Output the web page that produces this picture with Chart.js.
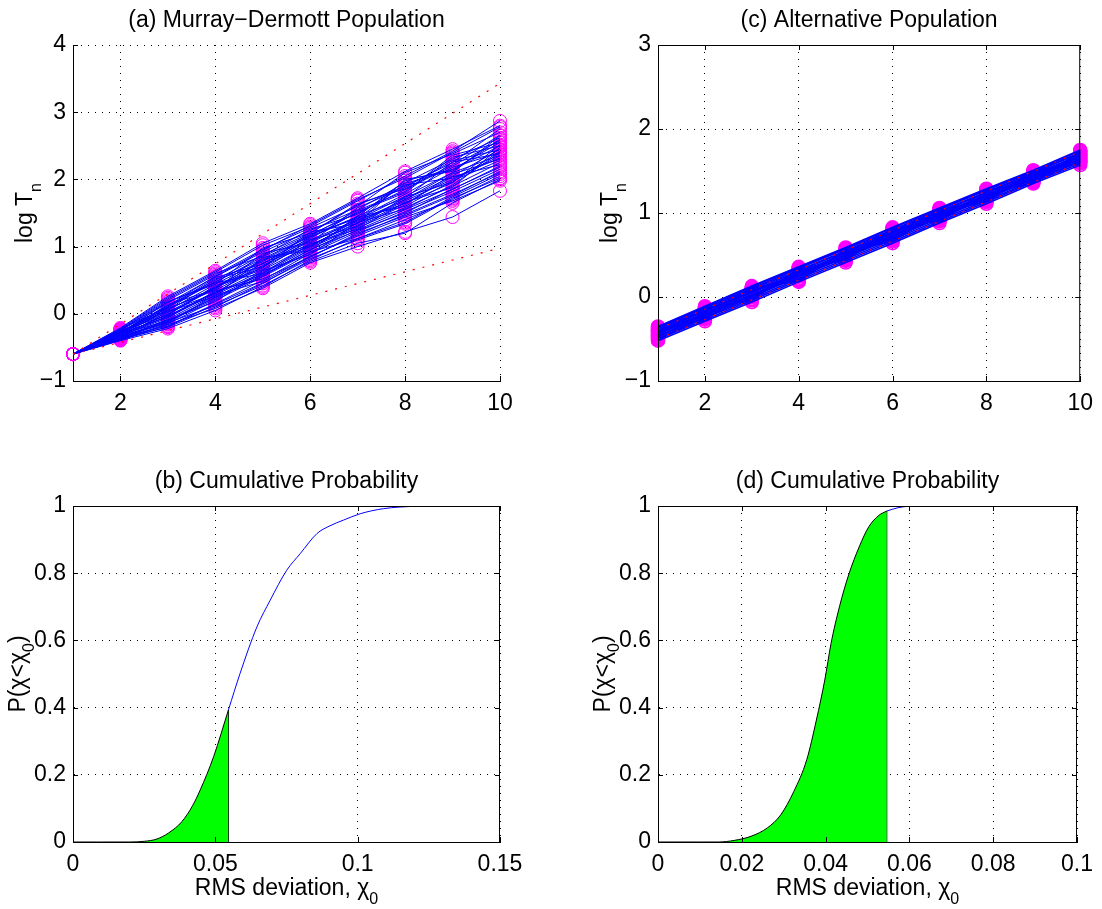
<!DOCTYPE html>
<html>
<head>
<meta charset="utf-8">
<script src="https://cdn.jsdelivr.net/npm/chart.js@4.4.1/dist/chart.umd.min.js"></script>
<style>
  body { margin: 0; background: #fff; }
  #fig { position: relative; width: 1102px; height: 909px; }
  canvas { position: absolute; }
</style>
</head>
<body>
<div id="fig">
  <canvas id="panelA" width="551" height="454" style="left:0;top:0"></canvas>
  <canvas id="panelC" width="551" height="454" style="left:551px;top:0"></canvas>
  <canvas id="panelB" width="551" height="455" style="left:0;top:454px"></canvas>
  <canvas id="panelD" width="551" height="455" style="left:551px;top:454px"></canvas>
</div>
<script>
// ---- data ----
const steps = [1, 2, 3, 4, 5, 6, 7, 8, 9, 10];

// (a) Murray-Dermott population: log T_n for each simulated system
const popA = [
  [-0.60, -0.22, 0.24, 0.62, 1.02, 1.30, 1.68, 2.05, 2.42, 2.87],
  [-0.60, -0.24, 0.20, 0.58, 0.96, 1.28, 1.60, 2.10, 2.38, 2.70],
  [-0.60, -0.25, 0.16, 0.55, 0.92, 1.24, 1.55, 1.95, 2.30, 2.62],
  [-0.60, -0.27, 0.12, 0.50, 0.88, 1.20, 1.62, 1.90, 2.25, 2.75],
  [-0.60, -0.23, 0.10, 0.47, 0.85, 1.18, 1.50, 1.85, 2.20, 2.58],
  [-0.60, -0.30, 0.05, 0.44, 0.80, 1.15, 1.45, 1.98, 2.15, 2.55],
  [-0.60, -0.28, 0.02, 0.40, 0.78, 1.12, 1.52, 1.80, 2.33, 2.50],
  [-0.60, -0.32, 0.00, 0.38, 0.75, 1.10, 1.40, 1.75, 2.10, 2.65],
  [-0.60, -0.26, 0.08, 0.35, 0.72, 1.08, 1.38, 1.70, 2.05, 2.45],
  [-0.60, -0.34, -0.03, 0.32, 0.70, 1.05, 1.42, 1.78, 2.18, 2.40],
  [-0.60, -0.29, -0.05, 0.30, 0.65, 1.02, 1.35, 1.68, 2.00, 2.35],
  [-0.60, -0.36, -0.08, 0.28, 0.62, 1.00, 1.32, 1.65, 1.95, 2.52],
  [-0.60, -0.31, -0.10, 0.25, 0.60, 0.98, 1.30, 1.62, 2.08, 2.30],
  [-0.60, -0.33, -0.12, 0.22, 0.58, 0.95, 1.28, 1.58, 1.90, 2.25],
  [-0.60, -0.38, -0.15, 0.20, 0.55, 0.92, 1.25, 1.55, 1.85, 2.20],
  [-0.60, -0.35, -0.18, 0.15, 0.50, 0.90, 1.22, 1.52, 1.82, 2.15],
  [-0.60, -0.37, -0.20, 0.10, 0.45, 0.85, 1.18, 1.48, 1.78, 2.10],
  [-0.60, -0.40, -0.22, 0.05, 0.40, 0.80, 1.12, 1.40, 1.70, 2.05],
  [-0.60, -0.39, -0.16, 0.08, 0.38, 0.76, 1.00, 1.22, 1.44, 1.83],
  [-0.60, -0.34, -0.13, 0.12, 0.42, 0.78, 1.05, 1.20, 1.65, 2.00],
  [-0.60, -0.27, 0.06, 0.52, 0.70, 1.14, 1.44, 1.60, 1.98, 2.28],
  [-0.60, -0.30, 0.14, 0.36, 0.90, 1.06, 1.58, 1.88, 2.28, 2.44],
  [-0.60, -0.25, -0.02, 0.42, 0.68, 1.22, 1.34, 2.00, 2.12, 2.60],
  [-0.60, -0.36, 0.03, 0.26, 0.84, 0.94, 1.46, 1.72, 2.26, 2.38],
  [-0.60, -0.29, 0.18, 0.46, 0.60, 1.04, 1.26, 1.66, 1.88, 2.48],
  [-0.60, -0.23, 0.22, 0.60, 0.86, 1.26, 1.48, 1.92, 2.02, 2.32],
  [-0.60, -0.33, -0.06, 0.34, 0.52, 0.84, 1.20, 1.46, 1.76, 2.12],
  [-0.60, -0.38, -0.09, 0.18, 0.64, 0.88, 1.36, 1.56, 1.92, 2.40],
  [-0.60, -0.31, 0.10, 0.48, 0.82, 1.16, 1.54, 1.82, 2.36, 2.55],
  [-0.60, -0.26, 0.04, 0.30, 0.76, 1.00, 1.40, 1.64, 2.04, 2.22],
  [-0.60, -0.35, -0.14, 0.28, 0.48, 0.86, 1.16, 1.44, 1.68, 1.98],
  [-0.60, -0.28, 0.12, 0.56, 0.94, 1.32, 1.70, 2.02, 2.40, 2.78],
  [-0.60, -0.32, -0.01, 0.40, 0.66, 1.10, 1.30, 1.74, 1.96, 2.42],
  [-0.60, -0.37, -0.11, 0.24, 0.56, 0.96, 1.24, 1.50, 1.86, 2.18],
  [-0.60, -0.24, 0.18, 0.44, 0.98, 1.20, 1.64, 1.86, 2.22, 2.66],
  [-0.60, -0.30, -0.04, 0.32, 0.58, 0.92, 1.12, 1.36, 1.74, 2.08],
  [-0.60, -0.27, 0.09, 0.54, 0.74, 1.18, 1.42, 1.94, 2.14, 2.50],
  [-0.60, -0.39, -0.19, 0.14, 0.46, 0.82, 1.10, 1.34, 1.72, 2.02],
  [-0.60, -0.33, 0.07, 0.38, 0.80, 1.02, 1.36, 1.70, 2.10, 2.36],
  [-0.60, -0.21, 0.26, 0.64, 1.05, 1.34, 1.72, 2.12, 2.45, 2.80]
];
const boundX = [1, 10];
const boundUpA = [-0.60, 3.43];
const boundLoA = [-0.60, 0.975];

// (c) alternative population
const popC = [
  [-0.52, -0.29, -0.06, 0.18, 0.41, 0.64, 0.88, 1.11, 1.35, 1.57],
  [-0.50, -0.27, -0.04, 0.20, 0.43, 0.66, 0.90, 1.13, 1.37, 1.59],
  [-0.49, -0.25, -0.02, 0.22, 0.45, 0.68, 0.92, 1.15, 1.38, 1.61],
  [-0.47, -0.24, 0.00, 0.24, 0.47, 0.70, 0.94, 1.17, 1.40, 1.62],
  [-0.46, -0.22, 0.01, 0.25, 0.48, 0.71, 0.95, 1.18, 1.41, 1.64],
  [-0.44, -0.21, 0.02, 0.26, 0.49, 0.72, 0.96, 1.19, 1.42, 1.65],
  [-0.43, -0.20, 0.03, 0.27, 0.50, 0.73, 0.97, 1.20, 1.43, 1.66],
  [-0.42, -0.19, 0.05, 0.28, 0.51, 0.74, 0.98, 1.21, 1.44, 1.67],
  [-0.41, -0.17, 0.06, 0.29, 0.52, 0.76, 0.99, 1.22, 1.45, 1.68],
  [-0.40, -0.16, 0.07, 0.31, 0.54, 0.77, 1.01, 1.24, 1.46, 1.69],
  [-0.38, -0.15, 0.09, 0.32, 0.55, 0.79, 1.02, 1.25, 1.48, 1.71],
  [-0.37, -0.13, 0.10, 0.34, 0.57, 0.80, 1.04, 1.27, 1.49, 1.72],
  [-0.36, -0.12, 0.12, 0.35, 0.58, 0.82, 1.05, 1.28, 1.50, 1.74],
  [-0.35, -0.11, 0.13, 0.36, 0.59, 0.83, 1.06, 1.29, 1.51, 1.75],
  [-0.48, -0.18, 0.00, 0.30, 0.46, 0.78, 0.93, 1.26, 1.39, 1.70],
  [-0.39, -0.26, 0.08, 0.21, 0.53, 0.67, 1.00, 1.14, 1.47, 1.60],
  [-0.45, -0.14, -0.03, 0.33, 0.44, 0.81, 0.91, 1.23, 1.36, 1.73],
  [-0.51, -0.23, 0.11, 0.19, 0.56, 0.69, 1.03, 1.16, 1.49, 1.63]
];
const boundUpC = [-0.38, 1.73];
const boundLoC = [-0.50, 1.60];

// (b) cumulative probability, Murray-Dermott
const cdfBx = [0, 0.010, 0.020, 0.025, 0.0295, 0.0336, 0.0383, 0.0420, 0.0447, 0.0494, 0.0546,
  0.0587, 0.0646, 0.0693, 0.0751, 0.0798, 0.0857, 0.0900, 0.0950, 0.1009, 0.1090, 0.1207, 0.1350, 0.1480];
const cdfBy = [0, 0, 0, 0.002, 0.009, 0.027, 0.061, 0.108, 0.155, 0.254, 0.393,
  0.502, 0.640, 0.720, 0.809, 0.858, 0.918, 0.940, 0.958, 0.977, 0.992, 0.999, 1.000, 1.000];

// (d) cumulative probability, alternative
const cdfDx = [0, 0.010, 0.0144, 0.0183, 0.0222, 0.0261, 0.0293, 0.0324, 0.0355, 0.0378, 0.0398,
  0.0413, 0.0433, 0.0456, 0.0480, 0.0503, 0.0527, 0.0546, 0.0573, 0.0597, 0.0644];
const cdfDy = [0, 0, 0, 0.005, 0.017, 0.042, 0.081, 0.150, 0.245, 0.363, 0.482,
  0.591, 0.700, 0.799, 0.878, 0.938, 0.972, 0.985, 0.995, 0.999, 1.000];

const chiObs = 0.0546;   // observed RMS deviation (edge of shaded area)

// ticks
const xTicksAC = [2, 4, 6, 8, 10];
const yTicksA = [-1, 0, 1, 2, 3, 4];
const yTicksC = [-1, 0, 1, 2, 3];
const xTicksB = [0, 0.05, 0.1, 0.15];
const xTicksD = [0, 0.02, 0.04, 0.06, 0.08, 0.1];
const yTicksBD = [0, 0.2, 0.4, 0.6, 0.8, 1];

// ---- drawing ----
const FONT = '"Liberation Sans", Arial, Helvetica, sans-serif';
const FSIZE = 23;
Chart.defaults.font.family = FONT;
Chart.defaults.color = '#000';

function drawParts(ctx, parts, cx, base) {
  const main = FSIZE + 'px ' + FONT, sub = '16px ' + FONT;
  const widths = parts.map(p => { ctx.font = p.sub ? sub : main; return ctx.measureText(p.t).width; });
  let x = cx - widths.reduce((s, w) => s + w, 0) / 2;
  parts.forEach((p, i) => {
    ctx.font = p.sub ? sub : main;
    ctx.fillText(p.t, x, base + (p.sub ? 9 : 0));
    x += widths[i];
  });
}

const matlabAxes = {
  id: 'matlabAxes',
  afterDraw(chart, args, opts) {
    const { ctx, chartArea: a, scales: { x, y } } = chart;
    ctx.save();
    ctx.strokeStyle = '#000';
    ctx.lineWidth = 1;
    if (opts.box) ctx.strokeRect(a.left + 0.5, a.top + 0.5, a.width - 1, a.height);
    ctx.beginPath();
    x.ticks.forEach(t => {
      const px = Math.round(x.getPixelForValue(t.value)) + 0.5;
      ctx.moveTo(px, a.bottom); ctx.lineTo(px, a.bottom - 5);
      if (opts.box) { ctx.moveTo(px, a.top); ctx.lineTo(px, a.top + 5); }
    });
    y.ticks.forEach(t => {
      const py = Math.round(y.getPixelForValue(t.value)) + 0.5;
      ctx.moveTo(a.left, py); ctx.lineTo(a.left + 5, py);
      if (opts.box) { ctx.moveTo(a.right, py); ctx.lineTo(a.right - 5, py); }
    });
    ctx.stroke();

    ctx.fillStyle = '#000';
    ctx.textAlign = 'left';
    ctx.textBaseline = 'alphabetic';
    const cx = (a.left + a.right) / 2;
    drawParts(ctx, [{ t: opts.title }], cx, a.top - 18);
    if (opts.xlabel) drawParts(ctx, opts.xlabel, cx, a.bottom + 53);
    ctx.translate(a.left + opts.ylabelOffset, (a.top + a.bottom) / 2);
    ctx.rotate(-Math.PI / 2);
    drawParts(ctx, opts.ylabel, 0, 0);
    ctx.restore();
  }
};

const fmt = v => String(v).replace('-', '\u2212');

function axis(min, max, ticks, size, horizontal) {
  return {
    type: 'linear', min, max,
    afterBuildTicks: s => { s.ticks = ticks.map(v => ({ value: v })); },
    afterFit: s => { if (horizontal) s.height = size; else s.width = size; },
    grid: { color: '#000', lineWidth: 1, drawTicks: false },
    border: { display: true, color: '#000', width: 1, dash: [1, 6] },
    ticks: { color: '#000', font: { size: FSIZE }, padding: horizontal ? 9 : 7,
      maxRotation: 0, autoSkip: false, callback: v => fmt(v) }
  };
}

function makeChart(id, datasets, sc, pad, axisOpts) {
  return new Chart(document.getElementById(id), {
    type: 'line',
    data: { datasets },
    options: {
      responsive: false, animation: false, parsing: false,
      layout: { padding: pad },
      scales: { x: sc.x, y: sc.y },
      plugins: { legend: { display: false }, tooltip: { enabled: false }, matlabAxes: axisOpts }
    },
    plugins: [matlabAxes]
  });
}

const pts = (xs, ys) => xs.map((v, i) => ({ x: v, y: ys[i] }));

function populationSets(pop, up, lo, markerWidth, lineWidth) {
  // markers ordered by x so the line controller keeps every point
  const markers = {
    data: steps.flatMap((s, j) => pop.map(row => ({ x: s, y: row[j] }))), showLine: false,
    pointRadius: 6.5, pointBorderColor: '#ff00ff', pointBorderWidth: markerWidth,
    pointBackgroundColor: 'rgba(0,0,0,0)', clip: false
  };
  const bounds = [up, lo].map(b => ({
    data: pts(boundX, b), borderColor: '#ff0000', borderWidth: 1.2, borderDash: [2, 8],
    pointRadius: 0, clip: false
  }));
  const lines = pop.map(row => ({
    data: pts(steps, row), borderColor: '#0000ff', borderWidth: lineWidth, pointRadius: 0, tension: 0, clip: false
  }));
  // first dataset is painted last: red bounds, then blue lines, then markers underneath
  return [...bounds, ...lines, markers];
}

function cdfSets(xs, ys) {
  const all = pts(xs, ys);
  const shaded = all.filter(p => p.x <= chiObs);
  const pObs = shaded[shaded.length - 1].y;
  return [
    { data: shaded, fill: 'origin', backgroundColor: '#00ff00', borderColor: '#000', borderWidth: 1,
      pointRadius: 0, cubicInterpolationMode: 'monotone' },
    { data: [{ x: chiObs, y: 0 }, { x: chiObs, y: pObs }], borderColor: '#000', borderWidth: 1, pointRadius: 0 },
    { data: all.filter(p => p.x >= chiObs), borderColor: '#0000ff', borderWidth: 1, pointRadius: 0,
      cubicInterpolationMode: 'monotone' }
  ];
}

const logT = [{ t: 'log T' }, { t: 'n', sub: true }];
const pLabel = [{ t: 'P(\u03c7<\u03c7' }, { t: '0', sub: true }, { t: ')' }];
const rmsLabel = [{ t: 'RMS deviation, \u03c7' }, { t: '0', sub: true }];

makeChart('panelA', populationSets(popA, boundUpA, boundLoA, 1, 1),
  { x: axis(1, 10, xTicksAC, 73, true), y: axis(-1, 4, yTicksA, 73, false) },
  { top: 45, right: 51, bottom: 0, left: 0 },
  { title: '(a) Murray\u2212Dermott Population', ylabel: logT, ylabelOffset: -41, box: false });

makeChart('panelC', populationSets(popC, boundUpC, boundLoC, 1.5, 1.6),
  { x: axis(1, 10, xTicksAC, 73, true), y: axis(-1, 3, yTicksC, 107, false) },
  { top: 45, right: 16, bottom: 0, left: 0 },
  { title: '(c) Alternative Population', ylabel: logT, ylabelOffset: -41, box: true });

makeChart('panelB', cdfSets(cdfBx, cdfBy),
  { x: axis(0, 0.15, xTicksB, 67, true), y: axis(0, 1, yTicksBD, 73, false) },
  { top: 52, right: 51, bottom: 0, left: 0 },
  { title: '(b) Cumulative Probability', xlabel: rmsLabel, ylabel: pLabel, ylabelOffset: -48, box: true });

makeChart('panelD', cdfSets(cdfDx, cdfDy),
  { x: axis(0, 0.1, xTicksD, 67, true), y: axis(0, 1, yTicksBD, 107, false) },
  { top: 52, right: 16, bottom: 0, left: 0 },
  { title: '(d) Cumulative Probability', xlabel: rmsLabel, ylabel: pLabel, ylabelOffset: -48, box: true });
</script>
</body>
</html>
